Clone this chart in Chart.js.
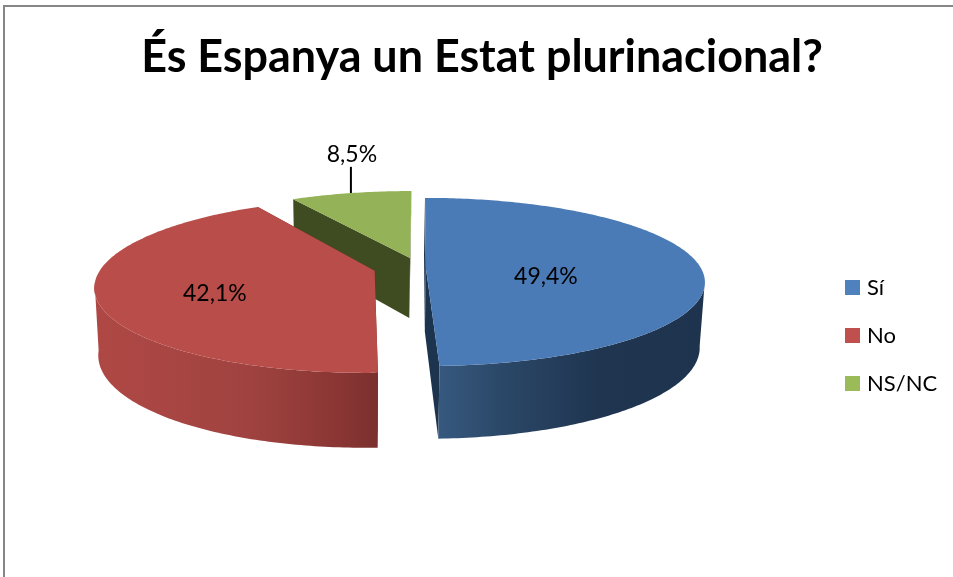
<!DOCTYPE html>
<html><head><meta charset="utf-8">
<style>html,body{margin:0;padding:0;background:#fff;overflow:hidden}#w{position:absolute;left:0;top:0;width:953px;height:577px}</style>
<script src="https://cdn.jsdelivr.net/npm/chart.js@4"></script></head>
<body><div id="w"><canvas id="c" width="953" height="577"></canvas></div>
<script>
const categories=['Sí','No','NS/NC'];
const values=[49.4,42.1,8.5];
const legendColors=['#4f81bd','#c0504d','#9bbb59'];
const topColors=['#4a7bb6','#b84d4a','#94b258'];
const cutColors=['#1d344f','#7a302e','#3f4b20'];
const sideStops=[
  [[0,'#37597f'],[0.23,'#2b4868'],[0.6,'#1f3550'],[1,'#1d334e']],
  [[0,'#af4845'],[0.54,'#a04340'],[0.86,'#8a3634'],[1,'#7a302e']],
  [[0,'#3f4b20'],[1,'#3f4b20']]
];
const titleText='És Espanya un Estat plurinacional?';
// view parameters in units of the pie radius
const view={scaleX:1.19,squash:0.3537,persp:0.167,depth:0.277,depthPersp:0.12,bottomX:0.985,bottomShift:-0.004,vanishX:0.0087};
const explodeX=[0.0344,-0.1875,-0.034];
const explodeY=[-0.3377,-0.325,-0.381];
const depthFactor=[1,1.03,0.94];
const squashFactor=[1,1.04,0.955];
const widthFactor=[1,1,0.965];
const labelDX=[0.554,-0.879,-0.2856];
const labelDY=[-0.2987,-0.2251,-0.8269];
const leader={index:2,dx:-0.29,y0:-0.775,y1:-0.662};
const legendBox={left:845,gap:11,width:15,height:15,pad:26,row:48,top:46,bottom:625,font:22};

function project(el,i,angle,rad,bottom){
  const r=el.outerRadius,u=Math.cos(angle)*rad,v=Math.sin(angle)*rad;
  const vx=el.x+view.vanishX*r;
  const ax=el.x+explodeX[i]*r-vx;
  const w=1-view.persp*v;
  let X=(ax+widthFactor[i]*view.scaleX*r*u)/w;
  let Y=el.y+explodeY[i]*r+squashFactor[i]*view.squash*r*v/w;
  if(bottom){X=X*view.bottomX+view.bottomShift*r;Y+=depthFactor[i]*view.depth*r/(1-view.depthPersp*v);}
  return [vx+X,Y];
}
function poly(ctx,pts,fill){
  ctx.beginPath();pts.forEach((p,k)=>k?ctx.lineTo(p[0],p[1]):ctx.moveTo(p[0],p[1]));ctx.closePath();
  ctx.fillStyle=fill;ctx.fill();
}
function angles(a0,a1){const n=Math.max(2,Math.ceil((a1-a0)/0.015)),o=[];for(let k=0;k<=n;k++)o.push(a0+(a1-a0)*k/n);return o;}
function fmt(v){return v.toFixed(1).replace('.',',')+'%';}

const pie3d={
  id:'pie3d',
  beforeDraw(chart){
    const c=chart.ctx;c.save();c.strokeStyle='#868686';c.lineWidth=2;
    c.beginPath();c.moveTo(953,6);c.lineTo(4,6);c.lineTo(4,577);c.stroke();c.restore();
  },
  afterLayout(chart){
    const l=chart.legend;l.left=legendBox.left-legendBox.pad;l.right=953;l.top=legendBox.top;l.bottom=legendBox.bottom;
  },
  beforeDatasetsDraw(chart){
    const ctx=chart.ctx,els=chart.getDatasetMeta(0).data;
    ctx.save();
    for(let i=els.length-1;i>=0;i--){
      const el=els[i],a0=el.startAngle,a1=el.endAngle;
      const arc=angles(a0,a1);
      const apexT=project(el,i,0,0,false),apexB=project(el,i,0,0,true);
      poly(ctx,[apexT,project(el,i,a0,1,false),project(el,i,a0,1,true),apexB],cutColors[i]);
      poly(ctx,[apexT,project(el,i,a1,1,false),project(el,i,a1,1,true),apexB],cutColors[i]);
      const front=arc.filter(a=>Math.sin(a)>=0.14);
      if(front.length>1){
        const t=front.map(a=>project(el,i,a,1,false)),b=front.map(a=>project(el,i,a,1,true)).reverse();
        const xs=t.concat(b).map(p=>p[0]);
        const g=ctx.createLinearGradient(Math.min(...xs),0,Math.max(...xs),0);
        sideStops[i].forEach(s=>g.addColorStop(s[0],s[1]));
        poly(ctx,t.concat(b),g);
      }
      poly(ctx,[apexT].concat(arc.map(a=>project(el,i,a,1,false))),topColors[i]);
    }
    const e0=els[leader.index],r0=e0.outerRadius;
    ctx.strokeStyle='#000';ctx.lineWidth=2;ctx.beginPath();
    ctx.moveTo(e0.x+leader.dx*r0,e0.y+leader.y0*r0);ctx.lineTo(e0.x+leader.dx*r0,e0.y+leader.y1*r0);ctx.stroke();
    ctx.fillStyle='#000';ctx.font='23px Lato';ctx.textAlign='center';ctx.textBaseline='middle';
    els.forEach((el,i)=>ctx.fillText(fmt(values[i]),el.x+labelDX[i]*el.outerRadius,el.y+labelDY[i]*el.outerRadius));
    ctx.restore();
    return false;
  },
  afterDraw(chart){
    // the legend's text gap is tied to its box width: widen the swatches to their full size
    const c=chart.ctx,l=chart.legend,b=legendBox;
    const first=(l.top+b.pad+l.bottom-3*b.row)/2+(b.font-b.height)/2;
    c.save();
    legendColors.forEach((col,i)=>{c.fillStyle=col;c.fillRect(b.left+b.gap-0.5,first+i*b.row,b.width-b.gap+0.5,b.height);});
    c.restore();
  }
};
new Chart(document.getElementById('c'),{
  type:'pie',
  data:{labels:categories,datasets:[{data:values,backgroundColor:legendColors,borderWidth:0}]},
  plugins:[pie3d],
  options:{responsive:false,animation:false,
    layout:{padding:{left:11}},
    plugins:{tooltip:{enabled:false},
      title:{display:true,text:titleText,color:'#000',font:{family:'Lato',size:44.9,weight:'bold'},padding:{top:31,bottom:30}},
      legend:{position:'right',labels:{boxWidth:legendBox.gap,boxHeight:legendBox.height,padding:legendBox.pad,color:'#000',font:{family:'Lato',size:legendBox.font}}}}}
});
</script></body></html>
